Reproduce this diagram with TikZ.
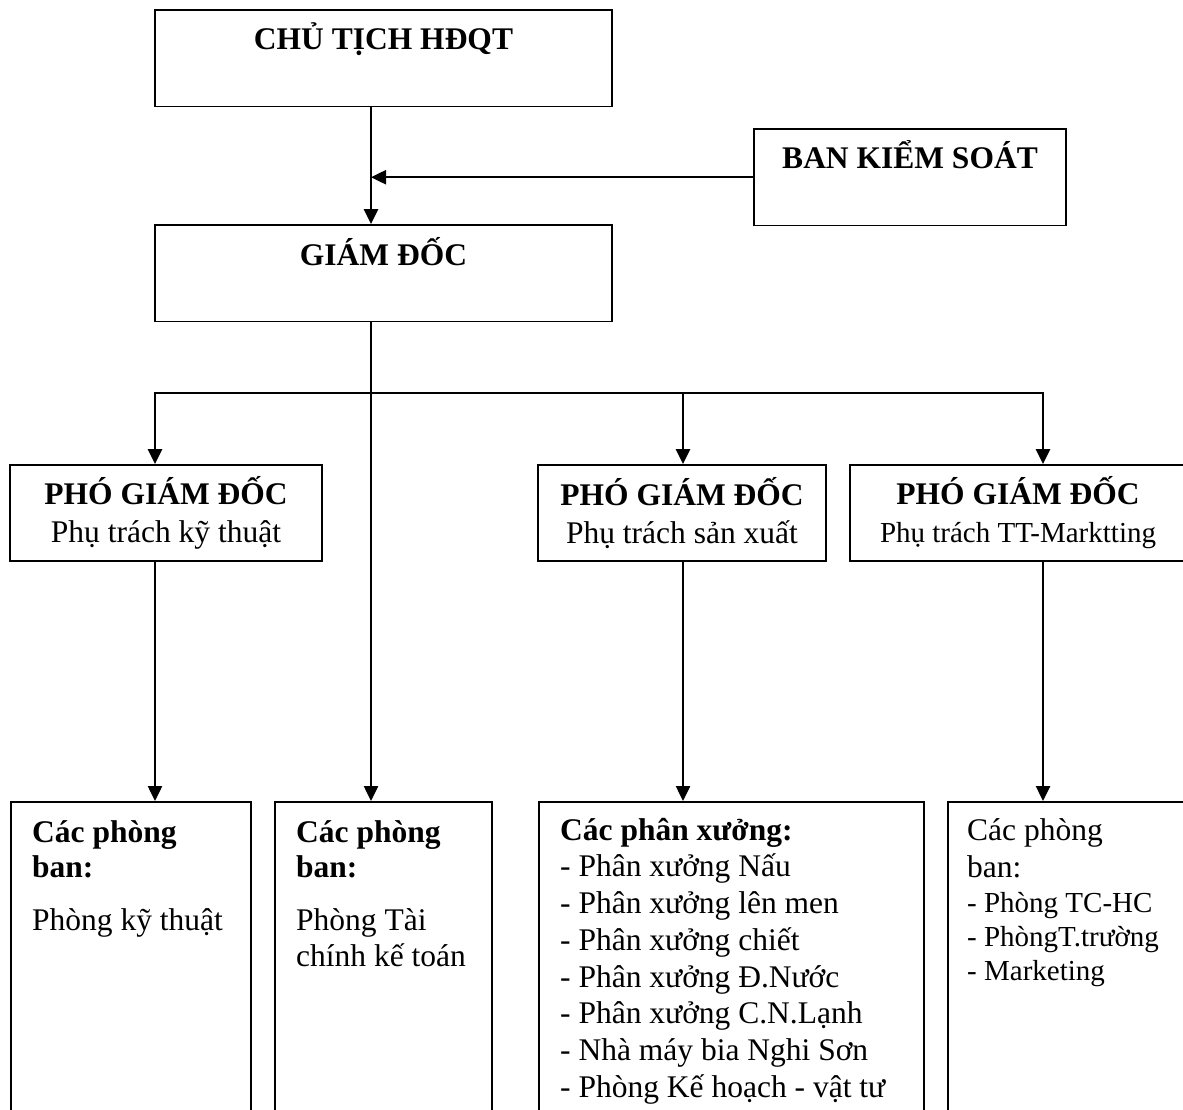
\documentclass[tikz,border=0pt]{standalone}
\usepackage{fontspec}
\setmainfont{Liberation Serif}
\usetikzlibrary{arrows.meta,positioning}

\newcommand{\topstrut}{\rule{0pt}{25pt}}

\begin{document}
\begin{tikzpicture}[x=1pt, y=-1pt, >={Triangle[length=15pt,width=14pt]},
  head node/.style={draw, line width=1.8pt, inner sep=0pt, anchor=base, text height=40pt, text depth=56.5pt, font=\fontsize{31.5}{36}\selectfont\bfseries},
  vice node/.style={draw, line width=1.8pt, minimum height=96pt, align=center, font=\fontsize{31.5}{38}\selectfont},
  dept node/.style={draw, line width=1.8pt, inner sep=0pt, anchor=north west, minimum height=330pt},
  list node/.style={anchor=north west, inner sep=0pt, align=left},
  link/.style={line width=2.5pt, line cap=rect}]

          \useasboundingbox (0,0) rectangle (1183,1110);
          \clip (0,0) rectangle (1183,1110);

          \node[head node, minimum width=457pt] (ct) at (383.5,50) {CHỦ TỊCH HĐQT};
          \node[head node, minimum width=312pt] (bks) at (910,169) {BAN KIỂM SOÁT};
          \node[head node, minimum width=457pt] (gd) at (383.5,265) {GIÁM ĐỐC};

          \node[vice node, minimum width=312pt] (pgd1) at (166,513) {\textbf{PHÓ GIÁM ĐỐC}\\Phụ trách kỹ thuật};
          \node[vice node, minimum width=288pt] (pgd2) at (682,513) {\textbf{PHÓ GIÁM ĐỐC}\\Phụ trách sản xuất};
          \node[vice node, minimum width=336pt] (pgd3) at (1018,513) {\textbf{PHÓ GIÁM ĐỐC}\\{\fontsize{29}{38}\selectfont Phụ trách TT-Marktting}};

          \node[dept node, minimum width=240pt] (pA) at (10,801) {};
          \node[dept node, minimum width=217pt] (pB) at (274,801) {};
          \node[dept node, minimum width=385pt] (pC) at (538,801) {};
          \node[dept node, minimum width=243pt] (pD) at (947,801) {};

          \node[list node, font=\fontsize{31.5}{35.5}\selectfont] (pA text) at ([xshift=22pt,yshift=-16pt]pA.north west) {\topstrut\textbf{Các phòng}\\\textbf{ban:}\\[17.5pt]Phòng kỹ thuật};
          \node[list node, font=\fontsize{31.5}{35.5}\selectfont] (pB text) at ([xshift=22pt,yshift=-16pt]pB.north west) {\topstrut\textbf{Các phòng}\\\textbf{ban:}\\[17.5pt]Phòng Tài\\chính kế toán};
          \node[list node, font=\fontsize{31.5}{36.7}\selectfont] (pC text) at ([xshift=22pt,yshift=-14pt]pC.north west) {\topstrut\textbf{Các phân xưởng:}\\- Phân xưởng Nấu\\- Phân xưởng lên men\\- Phân xưởng chiết\\- Phân xưởng Đ.Nước\\- Phân xưởng C.N.Lạnh\\- Nhà máy bia Nghi Sơn\\- Phòng Kế hoạch - vật tư};
          \node[list node, font=\fontsize{29}{34}\selectfont] (pD text) at ([xshift=20pt,yshift=-14pt]pD.north west) {{\fontsize{31.5}{35}\selectfont\topstrut Các phòng}\\[3pt]{\fontsize{31.5}{35}\selectfont ban:}\\[1pt]- Phòng TC-HC\\- PhòngT.trường\\- Marketing};

          \coordinate (m) at (371,393);
          \coordinate (c1) at (155,393);
          \coordinate (c2) at (683,393);
          \coordinate (c3) at (1043,393);

          \draw[link,->] (ct.south -| m) -- (gd.north -| m);
          \draw[link,->] (bks.west) -- (bks.west -| m);
          \draw[link,->] (gd.south -| m) -- (pB.north -| m);

          \draw[link,->] (c3) -- (c1) -- (pgd1.north -| c1);
          \draw[link,->] (c2) -- (pgd2.north -| c2);
          \draw[link,->] (c3) -- (pgd3.north -| c3);

          \draw[link,->] (pgd1.south -| c1) -- (pA.north -| c1);
          \draw[link,->] (pgd2.south -| c2) -- (pC.north -| c2);
          \draw[link,->] (pgd3.south -| c3) -- (pD.north -| c3);
        \end{tikzpicture}
\end{document}
